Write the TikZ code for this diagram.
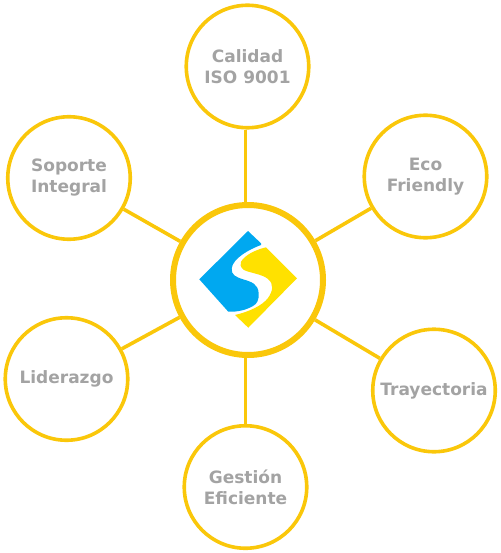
\documentclass[tikz,border=0pt]{standalone}
\usepackage{fontspec}
\setmainfont{DejaVu Sans}
\definecolor{ringc}{HTML}{FAC70A}
\definecolor{textc}{HTML}{A3A3A3}
\definecolor{logob}{HTML}{00A8F0}
\definecolor{logoy}{HTML}{FFE100}
\tikzset{
  item/.style={circle,draw=ringc,line width=3.6pt,fill=white,minimum size=122.5pt,inner sep=0pt,align=center,text=textc,font=\fontsize{17pt}{21pt}\selectfont\bfseries},
  hub/.style={circle,draw=ringc,line width=6pt,fill=white,minimum size=150pt,inner sep=0pt},
  link/.style={draw=ringc,line width=3.6pt}
}
\begin{document}
\begin{tikzpicture}[x=1pt,y=-1pt]
\useasboundingbox (0,0) rectangle (500,553);
\node[hub] (c) at (248,280) {};
\node[item] (q) at (247.5,66.5) {Calidad\\ISO 9001};
\node[item] (s) at (69,178) {Soporte\\Integral};
\node[item] (e) at (425.5,176.5) {Eco\\Friendly};
\node[item] (l) at (66.5,379) {Liderazgo};
\node[item] (t) at (434,390.5) {Trayectoria};
\node[item] (g) at (245.5,487) {Gestión\\Eficiente};
\foreach \n in {s,e,l,t} \draw[link] (c) -- (\n);
\draw[link] (q.south -| g) -- (c.north -| g);
\draw[link] (c.south -| g) -- (g);
\fill[logob] (248,231) -- (261,243.3) -- (261,245)
  .. controls (250,249) and (233,258) .. (231.7,268.3)
  .. controls (231,275) and (236,277) .. (243,279.3)
  .. controls (252,282) and (258,284) .. (258.7,293.3)
  .. controls (259,300) and (257,304) .. (253,306)
  .. controls (246,310) and (238,312) .. (228.3,311.7)
  -- (199.3,279.3) -- cycle;
\fill[logoy] (266,247.3) -- (297,278.3) -- (248.3,327.7) -- (235,315)
  .. controls (248,312) and (262,306) .. (268,298)
  .. controls (273,291) and (274,284) .. (268,279)
  .. controls (262,274) and (250,273) .. (244,270)
  .. controls (240,267) and (240,264) .. (241,261.7)
  .. controls (245,255) and (255,250) .. (266,247.3) -- cycle;
\end{tikzpicture}
\end{document}
